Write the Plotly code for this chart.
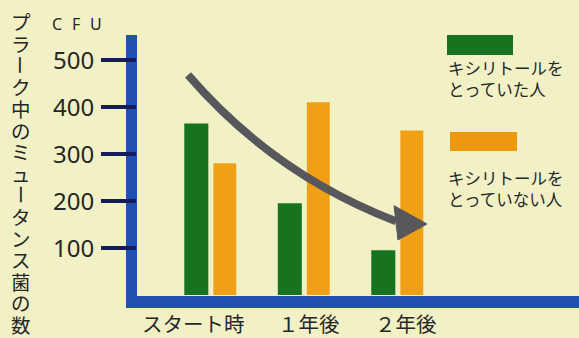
import plotly.graph_objects as go

# ---- data ----
categories = ["スタート時", "１年後", "２年後"]
series_names = ["キシリトールを<br>とっていた人", "キシリトールを<br>とっていない人"]
xylitol_yes = [365, 195, 95]
xylitol_no = [280, 410, 350]
y_tick_vals = [100, 200, 300, 400, 500]
y_tick_text = ["100", "200", "300", "400", "500"]
y_unit = "CFU"
y_title = "プラーク中のミュータンス菌の数"

# ---- styles ----
BG = "#f2f1c6"
BLUE = "#1f50b2"
GREEN = "#17731f"
ORANGE = "#f0a014"
ORANGE_LEG = "#ec9910"
ARROW = "#58585c"
NAVY = "#161b5c"
TXT = "#262626"
JP = "Noto Sans CJK JP"

W, H = 579, 338
L, R, T, B = 137, 0, 35, 43
PW, PH = W - L - R, H - T - B

def px(xp):  # pixel x -> paper
    return (xp - L) / PW

def py(yp):  # pixel y -> paper
    return (H - B - yp) / PH

idx = list(range(len(categories)))

fig = go.Figure()
fig.add_trace(go.Bar(x=idx, y=xylitol_yes, offset=-0.275, width=0.257,
                     marker=dict(color=GREEN, line=dict(width=0)), showlegend=False))
fig.add_trace(go.Bar(x=idx, y=xylitol_no, offset=0.036, width=0.245,
                     marker=dict(color=ORANGE, line=dict(width=0)), showlegend=False))

shapes = []
# axis bars
shapes.append(dict(type="rect", xref="paper", yref="paper", x0=px(126), x1=px(137),
                   y0=py(308), y1=1, fillcolor=BLUE, line=dict(width=0), layer="below"))
shapes.append(dict(type="rect", xref="paper", yref="paper", x0=px(126), x1=1,
                   y0=py(308), y1=py(296), fillcolor=BLUE, line=dict(width=0), layer="below"))
# curved trend arrow (data coords)
arrow_start = (-0.235, 468)
arrow_ctrl = (0.679, 257)
arrow_end = (1.989, 157)
head = [(1.968, 190), (2.011, 117), (2.321, 151)]
shapes.append(dict(type="path", xref="x", yref="y",
                   path=f"M {arrow_start[0]},{arrow_start[1]} Q {arrow_ctrl[0]},{arrow_ctrl[1]} {arrow_end[0]},{arrow_end[1]}",
                   line=dict(color=ARROW, width=8)))
shapes.append(dict(type="path", xref="x", yref="y",
                   path="M " + " L ".join(f"{a},{b}" for a, b in head) + " Z",
                   fillcolor=ARROW, line=dict(color=ARROW, width=1)))
# legend swatches
shapes.append(dict(type="rect", xref="paper", yref="paper", x0=px(447), x1=px(513),
                   y0=py(55), y1=py(35), fillcolor=GREEN, line=dict(width=0)))
shapes.append(dict(type="rect", xref="paper", yref="paper", x0=px(450), x1=px(517),
                   y0=py(151), y1=py(132), fillcolor=ORANGE_LEG, line=dict(width=0)))

ann = []
# legend texts
ann.append(dict(xref="paper", yref="paper", x=px(446), y=py(79), xanchor="left", yanchor="middle",
                text=series_names[0], showarrow=False, align="left",
                font=dict(family=JP, size=16.5, color=TXT)))
ann.append(dict(xref="paper", yref="paper", x=px(446), y=py(188), xanchor="left", yanchor="middle",
                text=series_names[1], showarrow=False, align="left",
                font=dict(family=JP, size=16.5, color=TXT)))
# x category labels
x_label_shift = [-17, 5, 9]
for i, c in enumerate(categories):
    ann.append(dict(xref="x", yref="paper", x=i, y=py(323), xshift=x_label_shift[i],
                    xanchor="center", yanchor="middle", text=c, showarrow=False,
                    font=dict(family=JP, size=20.5, color=TXT)))
# y tick labels
for v, t in zip(y_tick_vals, y_tick_text):
    ann.append(dict(xref="paper", yref="y", x=px(96), y=v, xanchor="right", yanchor="middle",
                    text=t, showarrow=False, font=dict(family="Noto Sans", size=24, color=TXT)))
# unit label, letter-spaced
unit_x = [57, 76, 96]
for ch, ux in zip(y_unit, unit_x):
    ann.append(dict(xref="paper", yref="paper", x=px(ux), y=py(24), xanchor="center", yanchor="middle",
                    text=ch, showarrow=False, font=dict(family="Noto Sans", size=16, color=TXT)))
# vertical y title, one character per annotation
for i, ch in enumerate(y_title):
    rot = 90 if ch == "ー" else 0
    ann.append(dict(xref="paper", yref="paper", x=px(21), y=py(22 + 21.6 * i),
                    xanchor="center", yanchor="middle", text=ch, showarrow=False,
                    textangle=rot, font=dict(family=JP, size=19.5, color=TXT)))

fig.update_layout(
    width=W, height=H,
    margin=dict(l=L, r=R, t=T, b=B, pad=0),
    paper_bgcolor=BG, plot_bgcolor=BG,
    barmode="overlay",
    shapes=shapes, annotations=ann,
    xaxis=dict(range=[(137 - 210) / 93.5, (579 - 210) / 93.5], showticklabels=False,
               showgrid=False, zeroline=False, showline=False, ticks=""),
    yaxis=dict(range=[0, 553], tickvals=y_tick_vals, ticks="outside", ticklen=35,
               tickwidth=3.5, tickcolor=NAVY, showticklabels=False,
               showgrid=False, zeroline=False, showline=False),
)

fig.write_html("out.html", config={"displayModeBar": False},
               post_script="document.body.style.margin='0';document.body.style.background='" + BG + "';")
